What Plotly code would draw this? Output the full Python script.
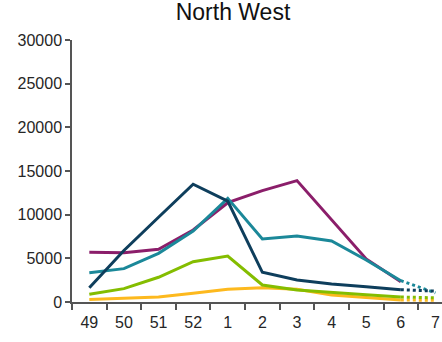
import plotly.graph_objects as go

weeks = ["49", "50", "51", "52", "1", "2", "3", "4", "5", "6", "7"]

# values for weeks 49..6 (solid) and projected week 7 (dotted)
orange = [300, 420, 570, 990, 1450, 1640, 1450, 800, 490, 230]
orange_proj = 200
green = [880, 1530, 2830, 4620, 5270, 1950, 1370, 1070, 840, 570]
green_proj = 480
purple = [5690, 5650, 6030, 8250, 11370, 12750, 13900, 9470, 4930, 2330]
purple_proj = None
teal = [3360, 3820, 5570, 8130, 11870, 7220, 7560, 6990, 4810, 2440]
teal_proj = 1050
navy = [1640, 5900, 9700, 13480, 11550, 3400, 2520, 2060, 1760, 1410]
navy_proj = 1250

series = [
    ("orange", orange, orange_proj, "#FDB91E"),
    ("green", green, green_proj, "#84BD00"),
    ("purple", purple, purple_proj, "#8B1E6A"),
    ("teal", teal, teal_proj, "#1B8899"),
    ("navy", navy, navy_proj, "#0E3E5C"),
]

fig = go.Figure()
for name, vals, proj, col in series:
    fig.add_trace(go.Scatter(x=weeks[:len(vals)], y=vals, mode="lines",
                             line=dict(color=col, width=3), name=name,
                             showlegend=False, hoverinfo="skip"))
    if proj is not None:
        fig.add_trace(go.Scatter(x=[weeks[len(vals) - 1], weeks[len(vals)]],
                                 y=[vals[-1], proj], mode="lines",
                                 line=dict(color=col, width=3, dash="dot"),
                                 showlegend=False, hoverinfo="skip"))

fig.update_layout(
    width=442, height=342,
    margin=dict(l=72, r=0, t=40, b=40, autoexpand=False),
    paper_bgcolor="white", plot_bgcolor="white",
    font=dict(family="Liberation Sans, Arial, sans-serif", size=16, color="#262626"),
    title=dict(text="North West", x=233 / 442, xanchor="center",
               y=1 - 12 / 342, yanchor="middle", font=dict(size=23, color="#111111"),
               pad=dict(t=0, b=0)),
    showlegend=False,
)
fig.update_xaxes(type="category", categoryorder="array", categoryarray=weeks,
                 range=[-0.5, 10.19], tickson="boundaries", ticks="outside",
                 ticklen=6, tickwidth=1.5, tickcolor="#555555",
                 showline=True, linecolor="#555555", linewidth=1.5,
                 showgrid=False, zeroline=False, ticklabelstandoff=5,
                 ticklabeloverflow="allow", tickfont=dict(size=16))
fig.update_yaxes(range=[0, 30000], tickvals=[0, 5000, 10000, 15000, 20000, 25000, 30000],
                 ticks="outside", ticklen=5, tickwidth=1.5, tickcolor="#555555",
                 showline=True, linecolor="#555555", linewidth=1.5,
                 showgrid=False, zeroline=False, tickformat="d",
                 tickfont=dict(size=16))

fig.write_html("out.html", config={"displayModeBar": False},
               post_script="document.body.style.margin='0';document.body.style.padding='0';")
